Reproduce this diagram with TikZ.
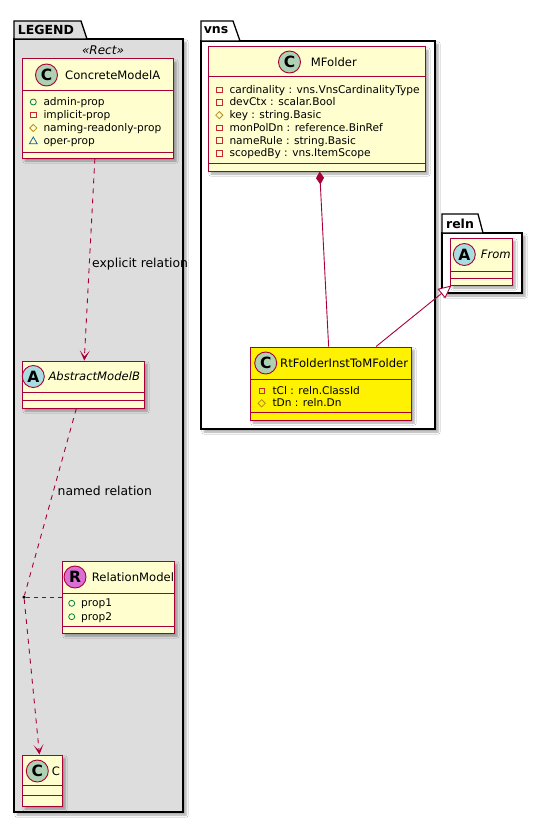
\documentclass[tikz,border=0pt]{standalone}
\usepackage{fontspec}
\setmainfont{DejaVu Sans}
\usetikzlibrary{arrows.meta,shapes.geometric,shadows.blur}

\definecolor{umlred}{HTML}{A80036}
\definecolor{umlfill}{HTML}{FEFECE}
\definecolor{legendgray}{HTML}{DDDDDD}
\definecolor{circC}{HTML}{ADD1B2}
\definecolor{circA}{HTML}{A9DCDF}
\definecolor{circR}{HTML}{DA70D6}
\definecolor{vispub}{HTML}{038048}
\definecolor{vispriv}{HTML}{C82930}
\definecolor{visprot}{HTML}{B38D22}
\definecolor{vispkg}{HTML}{1963A0}

\tikzset{
  umlshadow/.style={blur shadow={shadow xshift=3pt, shadow yshift=-3pt, shadow blur steps=5, shadow opacity=35}},
  classbox/.style={draw=umlred, line width=1pt, fill=umlfill, inner sep=0pt, umlshadow},
  sepline/.style={draw=umlred, line width=1pt},
  pkgline/.style={draw=black, line width=1.3pt},
  pkgtitle/.style={inner sep=0pt, font=\fontsize{12.5}{14}\selectfont\bfseries},
  badge/.style={circle, draw=umlred, line width=0.9pt, minimum size=22pt, inner sep=0pt, font=\fontsize{15.5}{15}\selectfont\bfseries},
  clsname/.style={anchor=west, inner sep=0pt, text height=8.3pt, text depth=0pt, font=\fontsize{11.6}{13}\selectfont},
  attr/.style={anchor=west, inner sep=0pt, text height=7.5pt, text depth=0.5pt, font=\fontsize{10.6}{12}\selectfont},
  lbl/.style={anchor=west, inner sep=0pt, text height=8.5pt, text depth=0.5pt, font=\fontsize{12.4}{14}\selectfont},
  pubicon/.style={circle, draw=vispub, line width=0.8pt, minimum size=6pt, inner sep=0pt},
  privicon/.style={rectangle, draw=vispriv, line width=0.8pt, minimum size=5.5pt, inner sep=0pt},
  proticon/.style={diamond, aspect=1, draw=visprot, line width=0.8pt, minimum size=7.5pt, inner sep=0pt},
  pkgicon/.style={regular polygon, regular polygon sides=3, draw=vispkg, line width=0.8pt, minimum size=9pt, inner sep=0pt},
  dep/.style={draw=umlred, line width=0.9pt, dash pattern=on 5pt off 5pt, -{Stealth[length=10pt,width=10pt,inset=6pt]}},
  rel/.style={draw=umlred, line width=0.9pt, dash pattern=on 5pt off 5pt},
  assocline/.style={draw=black!80, line width=0.9pt, dash pattern=on 4pt off 4pt},
  comp/.style={draw=umlred, line width=0.9pt, {Diamond[length=13pt,width=8pt,fill=umlred]}-},
  gen/.style={draw=umlred, line width=0.9pt, -{Triangle[length=13pt,width=12pt,fill=white]}},
  assocdot/.style={circle, fill=black, minimum size=3.5pt, inner sep=0pt}
}

\begin{document}
\begin{tikzpicture}[x=1pt, y=-1pt]
\useasboundingbox[fill=white] (0,0) rectangle (541,824);

\draw[pkgline, fill=legendgray, umlshadow] (14,39) rectangle (183,812);
\draw[pkgline, fill=legendgray] (14,39) -- (14,21) -- (81,21) -- (87,39) -- cycle;
\node[pkgtitle] (legendtitle) at (46,29.5) {LEGEND};
\node[inner sep=0pt, font=\fontsize{12}{14}\selectfont\itshape] (legendstereo) at (103,50) {«Rect»};

\draw[pkgline, fill=white, umlshadow] (201,41) rectangle (435,429);
\draw[pkgline, fill=white] (201,41) -- (201,21) -- (233,21) -- (240,41) -- cycle;
\node[pkgtitle] (vnstitle) at (216,30.5) {vns};

\draw[pkgline, fill=white, umlshadow] (442,233) rectangle (522,293);
\draw[pkgline, fill=white] (442,233) -- (442,214) -- (478,214) -- (483,233) -- cycle;
\node[pkgtitle] (relntitle) at (460,223.5) {reln};

\node[classbox, minimum width=151pt, minimum height=99pt] (cma) at (97.5,108.5) {};
\draw[sepline] (22,91) -- (173,91);
\draw[sepline] (22,152) -- (173,152);
\node[badge, fill=circC] (cmabadge) at (46.5,75) {C};
\node[clsname] (cmaname) at (65,75) {ConcreteModelA};
\node[pubicon] (cmav1) at (33.3,102) {};
\node[attr] (cmaa1) at (43.3,102) {admin-prop};
\node[privicon] (cmav2) at (33.3,115) {};
\node[attr] (cmaa2) at (43.3,115) {implicit-prop};
\node[proticon] (cmav3) at (33.3,128) {};
\node[attr] (cmaa3) at (43.3,128) {naming-readonly-prop};
\node[pkgicon] (cmav4) at (33.3,141.5) {};
\node[attr] (cmaa4) at (43.3,141) {oper-prop};

\node[classbox, minimum width=122pt, minimum height=47pt] (abs) at (83,384.5) {};
\draw[sepline] (22,392) -- (144,392);
\draw[sepline] (22,400) -- (144,400);
\node[badge, fill=circA] (absbadge) at (33.3,376.5) {A};
\node[clsname, font=\fontsize{11.6}{13}\selectfont\itshape] (absname) at (48.3,376.5) {AbstractModelB};

\node[classbox, minimum width=112pt, minimum height=72pt] (relm) at (118,597) {};
\draw[sepline] (62,593) -- (174,593);
\draw[sepline] (62,626) -- (174,626);
\node[badge, fill=circR] (relmbadge) at (75,577) {R};
\node[clsname] (relmname) at (91.7,577) {RelationModel};
\node[pubicon] (relmv1) at (71.7,603.3) {};
\node[attr] (relma1) at (81,603.3) {prop1};
\node[pubicon] (relmv2) at (71.7,616.7) {};
\node[attr] (relma2) at (81,616.7) {prop2};

\node[classbox, minimum width=40pt, minimum height=51pt] (cnode) at (42,780.5) {};
\draw[sepline] (22,785) -- (62,785);
\draw[sepline] (22,795) -- (62,795);
\node[badge, fill=circC] (cbadge) at (37.3,771) {C};
\node[clsname] (cname) at (51.7,771) {C};

\node[assocdot] (assoc) at (24,597) {};

\draw[dep] (cma) -- (abs);
\draw[rel] (abs) -- (assoc);
\draw[dep] (assoc) -- (cnode);
\draw[assocline] (assoc) -- (relm);
\node[lbl] (lblexplicit) at (92,263) {explicit relation};
\node[lbl] (lblnamed) at (57.5,491.7) {named relation};

\node[classbox, minimum width=217pt, minimum height=124pt] (mf) at (316.5,109) {};
\draw[sepline] (208,77) -- (425,77);
\draw[sepline] (208,163) -- (425,163);
\node[badge, fill=circC] (mfbadge) at (289.5,62) {C};
\node[clsname] (mfname) at (310.7,62) {MFolder};
\node[privicon] (mfv1) at (219.3,89.7) {};
\node[attr] (mfa1) at (229.3,89.7) {cardinality : vns.VnsCardinalityType};
\node[privicon] (mfv2) at (219.3,102.4) {};
\node[attr] (mfa2) at (229.3,102.4) {devCtx : scalar.Bool};
\node[proticon] (mfv3) at (219.3,115.1) {};
\node[attr] (mfa3) at (229.3,115.1) {key : string.Basic};
\node[privicon] (mfv4) at (219.3,127.8) {};
\node[attr] (mfa4) at (229.3,127.8) {monPolDn : reference.BinRef};
\node[privicon] (mfv5) at (219.3,140.5) {};
\node[attr] (mfa5) at (229.3,140.5) {nameRule : string.Basic};
\node[privicon] (mfv6) at (219.3,153.2) {};
\node[attr] (mfa6) at (229.3,153.2) {scopedBy : vns.ItemScope};

\node[classbox, fill=yellow, minimum width=161pt, minimum height=73pt] (rtf) at (330.5,383.5) {};
\draw[sepline] (250,379) -- (411,379);
\draw[sepline] (250,412) -- (411,412);
\node[badge, fill=circC] (rtfbadge) at (265.7,363) {C};
\node[clsname] (rtfname) at (280,363) {RtFolderInstToMFolder};
\node[privicon] (rtfv1) at (261.7,391) {};
\node[attr] (rtfa1) at (272.3,391) {tCl : reln.ClassId};
\node[proticon] (rtfv2) at (261.7,403.3) {};
\node[attr] (rtfa2) at (272.3,403.3) {tDn : reln.Dn};

\node[classbox, minimum width=62pt, minimum height=47pt] (from) at (481,261.5) {};
\draw[sepline] (450,271) -- (512,271);
\draw[sepline] (450,278) -- (512,278);
\node[badge, fill=circA] (frombadge) at (464.3,254.5) {A};
\node[clsname, font=\fontsize{11.6}{13}\selectfont\itshape] (fromname) at (480.7,254.5) {From};

\draw[comp] (mf) -- (rtf);
\draw[gen] (rtf) -- (from);
\end{tikzpicture}
\end{document}
